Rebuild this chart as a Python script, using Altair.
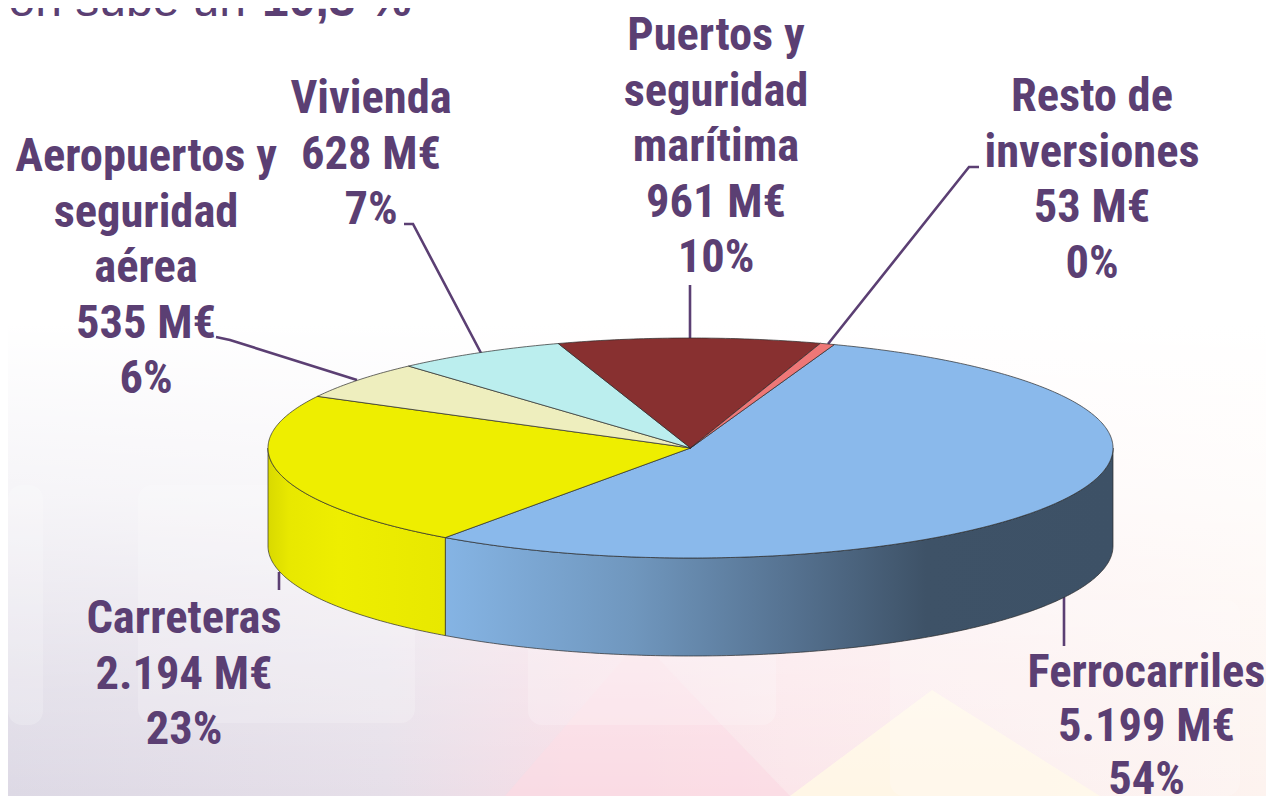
import numpy as np
import altair as alt

# ---- values
categories = ["Ferrocarriles", "Carreteras", "Aeropuertos y seguridad aérea",
              "Vivienda", "Puertos y seguridad marítima", "Resto de inversiones"]
amounts = [5199, 2194, 535, 628, 961, 53]
amount_labels = ["5.199 M€", "2.194 M€", "535 M€", "628 M€", "961 M€", "53 M€"]
percent_labels = ["54%", "23%", "6%", "7%", "10%", "0%"]
name_lines = [["Ferrocarriles"], ["Carreteras"], ["Aeropuertos y", "seguridad", "aérea"],
              ["Vivienda"], ["Puertos y", "seguridad", "marítima"], ["Resto de", "inversiones"]]
slice_colors = ["#8AB9EB", "#EEEE00", "#EEEEBE", "#BBEEEE", "#883030", "#EE7777"]

# ---- layout (page pixels)
W, H = 1258, 788
OFF = 8
CX, CY, RX, RY, DEPTH = 690.5, 448.0, 422.5, 110.0, 98.0
START_DEG = 19.9
label_x = [1146.5, 184, 146, 371, 716, 1092]
label_top_baseline = [687, 633, 171, 113, 50, 111]
label_line = [53.5, 55.5, 55.5, 55.5, 55.5, 55.5]
INK = "#5B3F73"
leaders = [
    [(1064, 597), (1064, 646)],
    [(279, 572), (279, 590)],
    [(216, 337), (230, 340), (357, 380)],
    [(404, 224), (413, 224), (481, 353)],
    [(690, 285), (690, 338)],
    [(979, 167), (969, 167), (828, 344)],
]
panels = [(-20, 43, 485, 725), (138, 415, 485, 723), (528, 776, 600, 725), (890, 1240, 600, 800)]

# ---- geometry from the values
tilt = RY / RX
d = DEPTH / RX
proj = alt.Projection(type="identity", reflectY=True, scale=RX, translate=[CX - OFF, CY - OFF])
total = sum(amounts)
edges = np.radians(START_DEG + np.concatenate([[0], np.cumsum(amounts)]) / total * 360)


def arc(a, b, dz=0.0):
    t = np.linspace(a, b, max(int(abs(b - a) * 90), 3))
    return [[float(np.sin(x)), float(tilt * np.cos(x) - dz)] for x in t]


def feature(ring, **props):
    return {"type": "Feature", "properties": props,
            "geometry": {"type": "Polygon", "coordinates": [ring + [ring[0]]]}}


def px(points):
    return [[(x - CX) / RX, (CY - y) / RX] for x, y in points]


def geo(features):
    return alt.Data(values=features)


slices = [feature([[0.0, 0.0]] + arc(edges[i], edges[i + 1]), name=categories[i])
          for i in range(len(categories))]


def wall(a, b):
    return feature(arc(a, b) + arc(a, b, d)[::-1])


def grad(stops):
    return alt.LinearGradient(gradient="linear", x1=0, x2=1, y1=0, y2=0,
                              stops=[alt.GradientStop(offset=o, color=c) for o, c in stops])


EDGE = "#2B2B2B"
wall_blue = alt.Chart(geo([wall(np.pi / 2, edges[1])])).mark_geoshape(
    fill=grad([(0, "#85B4E4"), (.28, "#7097BE"), (.53, "#54708E"), (.72, "#3E5267"), (1, "#3D5166")]),
    stroke=EDGE, strokeWidth=0.7).project(**proj.to_dict())
wall_yellow = alt.Chart(geo([wall(edges[1], 3 * np.pi / 2)])).mark_geoshape(
    fill=grad([(0, "#D9D900"), (.12, "#E8E800"), (.4, "#EEEE00"), (1, "#E8E800")]),
    stroke=EDGE, strokeWidth=0.7).project(**proj.to_dict())
top = alt.Chart(geo(slices)).mark_geoshape(stroke=EDGE, strokeWidth=0.7).encode(
    fill=alt.Fill("properties.name:N", legend=None,
                  scale=alt.Scale(domain=categories, range=slice_colors))
).project(**proj.to_dict())

# ---- background
x_none = dict(scale=None, axis=None)
bg_h = alt.Chart(alt.Data(values=[{"a": 0}])).mark_rect(
    fill=grad([(0, "#DDD9E5"), (.3, "#E6DFE9"), (.45, "#F6DDE6"), (.62, "#FBE6EA"), (1, "#FDF3EF")])
).encode(x=alt.value(0), x2=alt.value(W), y=alt.value(0), y2=alt.value(H))
veil = alt.Chart(alt.Data(values=[{"a": 0}])).mark_rect(
    fill=alt.LinearGradient(gradient="linear", x1=0, x2=0, y1=0, y2=1, stops=[
        alt.GradientStop(offset=0, color="rgba(255,255,255,1)"),
        alt.GradientStop(offset=.4, color="rgba(255,255,255,1)"),
        alt.GradientStop(offset=.62, color="rgba(255,255,255,.72)"),
        alt.GradientStop(offset=.85, color="rgba(255,255,255,.25)"),
        alt.GradientStop(offset=1, color="rgba(255,255,255,0)")])
).encode(x=alt.value(0), x2=alt.value(W), y=alt.value(0), y2=alt.value(H))
pink = alt.Chart(geo([feature(px([(505, 796), (640, 640), (790, 796)]))])).mark_geoshape(
    fill="#FBD9E3", opacity=0.75, stroke=None).project(**proj.to_dict())
cream = alt.Chart(geo([feature(px([(790, 796), (932, 690), (1100, 796)]))])).mark_geoshape(
    fill="#FFF7E6", opacity=0.95, stroke=None).project(**proj.to_dict())
panel_rows = [{"x": max(a - OFF, 0), "x2": b - OFF, "y": c - OFF, "y2": min(e - OFF, H)} for a, b, c, e in panels]
panel_marks = alt.Chart(alt.Data(values=panel_rows)).mark_rect(
    cornerRadius=14, fill="white", opacity=0.2
).encode(x=alt.X("x:Q", **x_none), x2="x2:Q", y=alt.Y("y:Q", **x_none), y2="y2:Q")

# ---- leader lines
leader_rows = [{"k": i, "o": j, "x": x - OFF, "y": y - OFF}
               for i, pts in enumerate(leaders) for j, (x, y) in enumerate(pts)]
leader_marks = alt.Chart(alt.Data(values=leader_rows)).mark_line(
    color=INK, strokeWidth=2.6
).encode(x=alt.X("x:Q", **x_none), y=alt.Y("y:Q", **x_none),
         detail="k:N", order="o:Q")

# ---- labels
rows = []
for i in range(len(categories)):
    lines = name_lines[i] + [amount_labels[i], percent_labels[i]]
    for j, s in enumerate(lines):
        rows.append({"t": s, "x": label_x[i] - OFF,
                     "y": label_top_baseline[i] + j * label_line[i] - OFF})
labels = alt.Chart(alt.Data(values=rows)).mark_text(
    font="Roboto Condensed", fontSize=46.5, fontWeight="bold", color=INK,
    align="center", baseline="alphabetic"
).encode(x=alt.X("x:Q", **x_none), y=alt.Y("y:Q", **x_none), text="t:N")

head_rows_a = [{"t": "ón sube un", "x": 246 - OFF, "y": 16 - OFF}]
head_rows_b = [{"t": "10,3 %", "x": 262 - OFF, "y": 16 - OFF}]
head_a = alt.Chart(alt.Data(values=head_rows_a)).mark_text(
    font="Liberation Sans", fontSize=48, color=INK, align="right", baseline="alphabetic"
).encode(x=alt.X("x:Q", **x_none), y=alt.Y("y:Q", **x_none), text="t:N")
head_b = alt.Chart(alt.Data(values=head_rows_b)).mark_text(
    font="Liberation Sans", fontSize=48, fontWeight="bold", color=INK, align="left", baseline="alphabetic"
).encode(x=alt.X("x:Q", **x_none), y=alt.Y("y:Q", **x_none), text="t:N")

chart = alt.layer(
    bg_h, pink, cream, veil, panel_marks, head_a, head_b,
    leader_marks, wall_blue, wall_yellow, top, labels
).properties(
    width=W, height=H, padding=0, autosize=alt.AutoSizeParams(type="none")
).configure_view(stroke=None)

chart.save("out.html", embed_options={"renderer": "svg", "actions": False})
